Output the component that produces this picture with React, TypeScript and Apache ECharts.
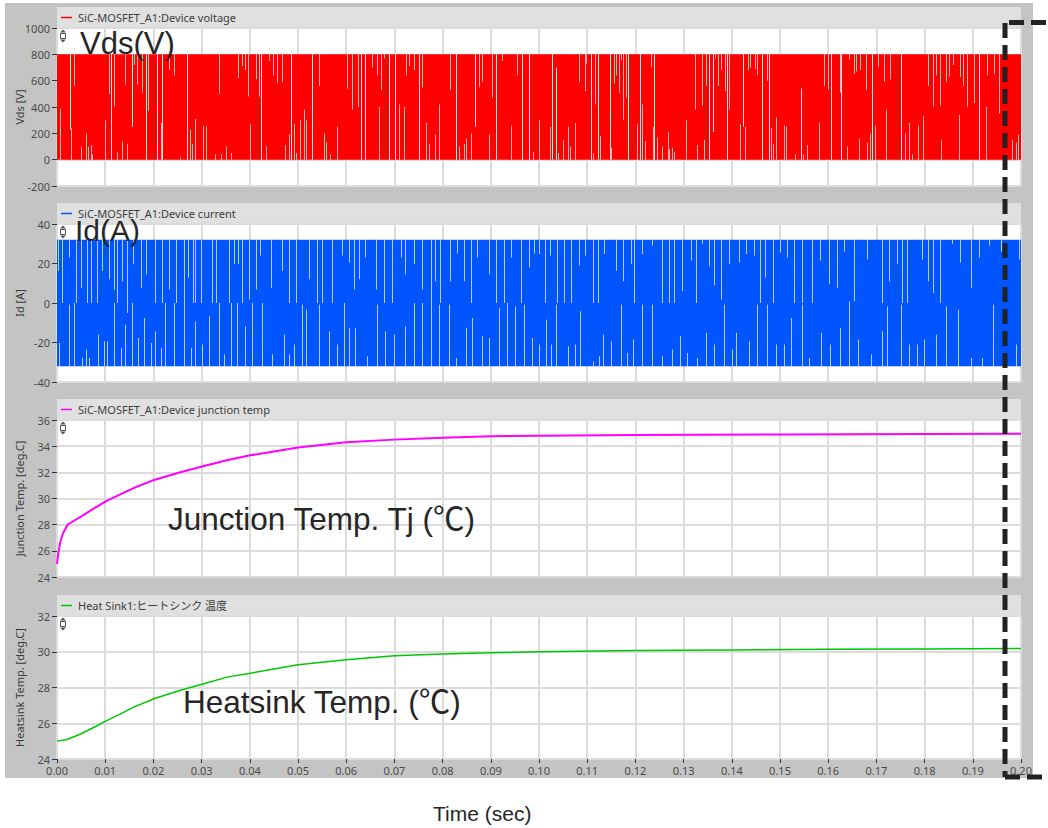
import React, { useEffect, useRef } from "react";
import * as echarts from "echarts";

// ---------- data ----------
const X_MIN = 0;
const X_MAX = 0.2;
const X_STEP = 0.01;

const panelNames = ["Vds [V]", "Id [A]", "Junction Temp. [deg.C]", "Heatsink Temp. [deg.C]"];
const legendNames = [
  "SiC-MOSFET_A1:Device voltage",
  "SiC-MOSFET_A1:Device current",
  "SiC-MOSFET_A1:Device junction temp",
  "Heat Sink1:ヒートシンク 温度",
];
const yMins = [-200, -40, 24, 24];
const yMaxs = [1000, 40, 36, 32];
const yIntervals = [200, 20, 2, 2];

// switching envelope [tStart, tEnd, low, high]
const vdsBand = [[0, 0.2, 0, 800]];
const idBand = [[0, 0.2, -32, 32]];

// visible gaps in the dense switching waveform [t, from, to]
const vdsGaps = [
  [0.0007,0,390],[0.0026,800,230],[0.0030,0,240],[0.0036,800,560],[0.0050,0,100],[0.0061,0,200],[0.0064,0,100],[0.0070,0,110],[0.0073,0,40],[0.0099,0,300],[0.0108,800,500],[0.0113,800,0],[0.0118,800,400],[0.0125,0,60],[0.0135,0,140],[0.0142,800,570],[0.0146,0,120],[0.0156,800,250],[0.0159,800,720],[0.0166,800,570],[0.0177,800,510],[0.0184,800,0],[0.0189,800,370],[0.0208,800,0],[0.0215,0,280],[0.0218,800,0],[0.0232,800,680],[0.0242,800,640],[0.0255,0,20],[0.0270,800,0],[0.0275,0,230],[0.0280,0,120],[0.0286,0,310],[0.0303,0,260],[0.0309,0,255],[0.0327,0,40],[0.0337,800,500],[0.0341,0,40],[0.0351,0,100],[0.0362,0,50],[0.0376,800,620],[0.0384,800,710],[0.0391,800,680],[0.0397,800,480],[0.0401,0,270],[0.0412,800,610],[0.0419,800,480],[0.0424,0,800],[0.0434,0,100],[0.0440,800,750],[0.0448,800,640],[0.0457,800,580],[0.0467,800,590],[0.0474,0,110],[0.0481,0,190],[0.0486,800,0],[0.0491,0,270],[0.0496,0,50],[0.0505,0,300],[0.0512,0,380],[0.0517,0,300],[0.0529,800,0],[0.0543,800,560],[0.0554,0,200],[0.0558,0,130],[0.0567,0,40],[0.0581,0,250],[0.0602,800,540],[0.0611,800,380],[0.0625,800,400],[0.0630,800,0],[0.0640,800,0],[0.0653,800,700],[0.0664,800,640],[0.0668,0,400],[0.0673,800,530],[0.0678,800,770],[0.0688,800,0],[0.0702,800,0],[0.0709,0,420],[0.0720,0,400],[0.0724,800,640],[0.0730,800,710],[0.0740,800,680],[0.0751,800,0],[0.0758,800,550],[0.0765,0,280],[0.0771,0,120],[0.0784,0,190],[0.0792,0,420],[0.0816,800,530],[0.0827,800,0],[0.0834,0,100],[0.0844,0,120],[0.0848,0,160],[0.0858,0,200],[0.0868,800,250],[0.0875,800,550],[0.0882,800,590],[0.0896,0,190],[0.0903,800,470],[0.0910,800,0],[0.0924,800,750],[0.0941,0,260],[0.0955,800,640],[0.0965,800,0],[0.0979,800,0],[0.0987,0,60],
  [0.0999,0,300],[0.1022,0,250],[0.1026,800,0],[0.1036,0,700],[0.1040,0,50],[0.1050,0,150],[0.1060,0,250],[0.1064,0,100],[0.1075,0,280],[0.1084,800,590],[0.1095,800,520],[0.1098,800,730],[0.1107,800,0],[0.1112,0,50],[0.1117,800,420],[0.1122,800,0],[0.1126,0,180],[0.1147,800,0],[0.1150,0,90],[0.1156,800,580],[0.1160,800,640],[0.1166,800,510],[0.1170,800,760],[0.1174,800,300],[0.1180,800,470],[0.1184,800,0],[0.1204,0,270],[0.1209,800,0],[0.1214,0,420],[0.1220,0,140],[0.1232,800,700],[0.1236,0,250],[0.1239,800,0],[0.1245,0,170],[0.1256,0,100],[0.1267,0,210],[0.1270,0,80],[0.1275,0,90],[0.1280,0,60],[0.1304,0,300],[0.1324,800,380],[0.1328,0,110],[0.1339,800,410],[0.1342,0,150],[0.1347,800,560],[0.1353,0,800],[0.1362,800,210],[0.1366,800,770],[0.1372,800,560],[0.1377,800,680],[0.1386,800,520],[0.1391,0,800],[0.1395,800,380],[0.1418,0,270],[0.1423,800,250],[0.1427,0,250],[0.1434,800,680],[0.1437,800,700],[0.1448,800,690],[0.1452,800,640],[0.1462,0,800],[0.1472,800,600],[0.1477,0,800],[0.1481,0,240],[0.1485,0,120],[0.1491,0,320],[0.1508,0,260],[0.1513,0,250],[0.1532,0,40],[0.1543,0,540],[0.1548,0,40],[0.1557,0,110],[0.1581,0,280],[0.1592,800,560],[0.1600,800,530],[0.1605,800,0],[0.1624,800,510],[0.1626,0,800],[0.1640,0,100],[0.1644,800,760],[0.1653,800,650],[0.1658,800,670],[0.1664,0,160],[0.1667,800,680],[0.1678,800,530],[0.1681,0,130],[0.1686,0,200],[0.1691,800,0],[0.1697,0,260],[0.1704,800,700],[0.1716,800,590],[0.1720,0,380],[0.1729,800,610],[0.1750,800,0],[0.1759,0,200],[0.1768,0,280],[0.1773,0,40],[0.1787,0,260],[0.1797,0,330],[0.1808,800,560],[0.1817,800,400],[0.1823,800,640],[0.1831,800,410],[0.1835,0,150],[0.1845,800,590],[0.1851,800,630],[0.1859,800,720],[0.1871,0,340],[0.1873,800,630],[0.1880,800,560],[0.1889,800,400],[0.1902,800,430],[0.1913,800,0],[0.1927,0,400],[0.1930,800,640],[0.1944,800,650],[0.1954,800,350],[0.1981,0,150],[0.1989,0,130],[0.1993,0,190],
];

const idGaps = [
  [0.0002,32,16.3],[0.0011,32,0],[0.0025,32,23],[0.0040,32,0],[0.0049,32,7.7],[0.0063,32,0],[0.0070,32,0],[0.0083,32,0],[0.0094,32,16.3],[0.0108,32,12],[0.0118,32,6.8],[0.0125,32,0],[0.0135,32,11],[0.0146,32,-5],[0.0157,32,19.7],[0.0175,32,7.7],[0.0184,32,14.5],[0.0204,32,0],[0.0217,32,0],[0.0232,32,6.8],[0.0247,32,0],[0.0263,32,0],[0.0272,32,12.8],[0.0282,32,0],[0.0287,32,0],[0.0299,32,0],[0.0322,32,0],[0.0329,32,0],[0.0357,32,0],[0.0367,32,19.7],[0.0376,32,19.7],[0.0384,32,0],[0.0398,32,1.7],[0.0412,32,6.8],[0.0422,32,24],[0.0443,32,7.7],[0.0467,32,16.3],[0.0481,32,0],[0.0495,32,0],[0.0523,32,12],[0.0540,32,0],[0.0550,32,0],[0.0571,32,0],[0.0592,32,24],[0.0605,32,20.5],[0.0616,32,6.8],[0.0626,32,12],[0.0640,32,23],[0.0661,32,6.8],[0.0678,32,0],[0.0695,32,0],[0.0713,32,23],[0.0723,32,14.5],[0.0740,32,19.7],[0.0758,32,6.8],[0.0775,32,0],[0.0785,32,11],[0.0795,32,0],[0.0816,32,11],[0.0830,32,25],[0.0844,32,11],[0.0858,32,0],[0.0872,32,23],[0.0896,32,14.5],[0.0910,32,0],[0.0927,32,0],[0.0941,32,23],[0.0962,32,0],[0.0979,32,18],[0.0989,32,25],
  [0.0004,-32,-20.2],[0.0025,-32,-0.8],[0.0035,-32,0],[0.0051,-32,-27.8],[0.0061,-32,-23.6],[0.0066,-32,-27.8],[0.0085,-32,-16],[0.0097,-32,-19.4],[0.0104,-32,-19.4],[0.0118,-32,0],[0.0132,-32,-22.7],[0.0142,-32,-11],[0.0156,-32,0],[0.0168,-32,-17.7],[0.0180,-32,-7.6],[0.0194,-32,-20.2],[0.0204,-32,-14.3],[0.0215,-32,-22.7],[0.0225,-32,0],[0.0242,-32,0],[0.0263,-32,0],[0.0277,-32,-22.7],[0.0287,-32,-9.3],[0.0301,-32,-21],[0.0315,-32,-6.7],[0.0336,-32,0],[0.0346,-32,-26],[0.0360,-32,0],[0.0374,-32,0],[0.0391,-32,-11.8],[0.0405,-32,0],[0.0426,-32,0],[0.0446,-32,-26],[0.0471,-32,-16],[0.0481,-32,-26],[0.0491,-32,-21],[0.0509,-32,-0.8],[0.0517,-32,-3.4],[0.0543,-32,-0.8],[0.0564,-32,-14.3],[0.0581,-32,-21],[0.0595,-32,0],[0.0605,-32,-12.6],[0.0619,-32,-12.6],[0.0644,-32,-27],[0.0664,-32,-0.8],[0.0681,-32,-14.3],[0.0699,-32,-16],[0.0723,-32,-11.8],[0.0740,-32,0],[0.0758,-32,0],[0.0775,-32,0],[0.0792,-32,-0.8],[0.0813,-32,-0.8],[0.0827,-32,-27.8],[0.0848,-32,-12.6],[0.0861,-32,-7.6],[0.0881,-32,-16.8],[0.0896,-32,-17.7],[0.0917,-32,-2.5],[0.0934,-32,0],[0.0950,-32,-1.7],[0.0969,-32,-0.8],[0.0986,-32,-17.7],
  [0.1000,32,24.8],[0.1012,32,0],[0.1022,32,24],[0.1038,32,0],[0.1052,32,0],[0.1066,32,0],[0.1083,32,19],[0.1095,32,24],[0.1112,32,0],[0.1122,32,0],[0.1135,32,24.8],[0.1160,32,16.3],[0.1174,32,11],[0.1190,32,19.7],[0.1197,32,0],[0.1214,32,24.8],[0.1235,32,29],[0.1256,32,0],[0.1270,32,0],[0.1280,32,0],[0.1297,32,6],[0.1315,32,21.5],[0.1326,32,0],[0.1339,32,30],[0.1353,32,18.5],[0.1363,32,9],[0.1377,32,1.7],[0.1394,32,19.7],[0.1415,32,20.5],[0.1429,32,24.8],[0.1446,32,24],[0.1458,32,0],[0.1469,32,12.8],[0.1485,32,0],[0.1501,32,25.5],[0.1515,32,23],[0.1529,32,0],[0.1546,32,0],[0.1567,32,0],[0.1584,32,21.5],[0.1602,32,9.5],[0.1619,32,7.7],[0.1633,32,26],[0.1653,32,0.9],[0.1681,32,22],[0.1712,32,0],[0.1726,32,11],[0.1743,32,19.7],[0.1754,32,0],[0.1764,32,0],[0.1795,32,22],[0.1808,32,11],[0.1817,32,5.1],[0.1831,32,0],[0.1856,32,30],[0.1873,32,20.5],[0.1896,32,7.7],[0.1913,32,23],[0.1934,32,29],[0.1958,32,26],[0.1996,32,22],
  [0.0999,-32,-21],[0.1015,-32,-8.4],[0.1024,-32,-21],[0.1036,-32,-0.8],[0.1060,-32,-21.9],[0.1075,-32,-21],[0.1086,-32,-4.2],[0.1112,-32,-29.5],[0.1124,-32,-27],[0.1133,-32,-16],[0.1149,-32,-19.4],[0.1171,-32,-0.8],[0.1183,-32,-25.3],[0.1195,-32,-18.5],[0.1214,-32,-0.8],[0.1235,-32,-0.8],[0.1256,-32,-27],[0.1275,-32,-23.6],[0.1292,-32,-16.8],[0.1308,-32,-25.3],[0.1328,-32,-27.8],[0.1347,-32,-15.1],[0.1363,-32,-21],[0.1384,-32,-0.8],[0.1401,-32,-23.6],[0.1409,-32,-15.1],[0.1436,-32,-19.4],[0.1453,-32,-0.8],[0.1472,-32,-0.8],[0.1491,-32,-21],[0.1508,-32,-21],[0.1522,-32,-7.6],[0.1545,-32,-0.8],[0.1560,-32,-27.8],[0.1586,-32,-15.1],[0.1603,-32,-21],[0.1624,-32,-12.6],[0.1643,-32,0.8],[0.1662,-32,-18.5],[0.1688,-32,-26],[0.1712,-32,-14.3],[0.1723,-32,-1.7],[0.1750,-32,-0.8],[0.1768,-32,-21],[0.1785,-32,-21],[0.1799,-32,-18.5],[0.1823,-32,-16],[0.1844,-32,-1.7],[0.1870,-32,-3.4],[0.1896,-32,-27.8],[0.1920,-32,-27.8],[0.1942,-32,-0.8],[0.1989,-32,-21],
];

const tjTime = [0, 0.0003, 0.0007, 0.0012, 0.0022, 0.0035, 0.0049, 0.0075, 0.0102, 0.013, 0.0159, 0.02, 0.025, 0.0301, 0.035, 0.0401, 0.045, 0.05, 0.06, 0.07, 0.08, 0.09, 0.1, 0.12, 0.15, 0.18, 0.2];
const tjValues = [25.0, 25.9, 26.7, 27.3, 28.0, 28.3, 28.6, 29.2, 29.8, 30.3, 30.8, 31.4, 31.95, 32.45, 32.9, 33.3, 33.6, 33.9, 34.3, 34.5, 34.65, 34.75, 34.8, 34.85, 34.9, 34.93, 34.95];

const hsTime = [0, 0.0021, 0.0049, 0.0075, 0.0102, 0.013, 0.0159, 0.0204, 0.0256, 0.0301, 0.0353, 0.0401, 0.05, 0.06, 0.07, 0.08, 0.09, 0.1, 0.12, 0.14, 0.16, 0.18, 0.2];
const hsValues = [25.0, 25.09, 25.4, 25.75, 26.13, 26.5, 26.9, 27.4, 27.85, 28.18, 28.58, 28.8, 29.27, 29.55, 29.77, 29.88, 29.94, 30.0, 30.07, 30.1, 30.14, 30.16, 30.18];

// ---------- style ----------
const COLORS = ["#ff0000", "#0055ff", "#ff00ff", "#00c800"];
const UI_FONT = '"Noto Sans", "Noto Sans CJK JP", sans-serif';
const BIG_FONT = '"Liberation Sans", Arial, "Noto Sans CJK JP", sans-serif';
const GRID_LEFT = 57;
const GRID_WIDTH = 964;
const GRID_TOPS = [28, 224, 420, 616];
const GRID_HEIGHTS = [158, 158, 157, 143];

function bandRender(color: string) {
  return (params: any, api: any) => {
    const a = api.coord([api.value(0), api.value(3)]);
    const b = api.coord([api.value(1), api.value(2)]);
    return {
      type: "rect",
      shape: { x: a[0], y: a[1], width: b[0] - a[0], height: b[1] - a[1] },
      style: { fill: color },
    };
  };
}

function gapRender(params: any, api: any) {
  const p1 = api.coord([api.value(0), api.value(1)]);
  const p2 = api.coord([api.value(0), api.value(2)]);
  const x = Math.round(p1[0]) + 0.5;
  const full = Math.abs(api.value(2) - api.value(1));
  return {
    type: "line",
    shape: { x1: x, y1: p1[1], x2: x, y2: p2[1] },
    style: { stroke: "#ffffff", lineWidth: 1, opacity: full > 500 ? 0.9 : 0.7 },
  };
}

function buildOption() {
  const grids = GRID_TOPS.map((top, i) => ({
    left: GRID_LEFT,
    width: GRID_WIDTH,
    top,
    height: GRID_HEIGHTS[i],
    show: true,
    backgroundColor: "#ffffff",
    borderWidth: 0,
  }));
  const xAxes = GRID_TOPS.map((_, i) => ({
    type: "value",
    gridIndex: i,
    min: X_MIN,
    max: X_MAX,
    interval: X_STEP,
    axisLine: { show: false },
    axisTick: { show: i === 3, length: 4, lineStyle: { color: "#333" } },
    axisLabel: {
      show: i === 3,
      formatter: (v: number) => v.toFixed(2),
      fontSize: 11,
      color: "#4a4a4a",
      fontFamily: UI_FONT,
      margin: 6,
      showMinLabel: true,
      showMaxLabel: true,
    },
    splitLine: { show: true, lineStyle: { color: "#dcdcdc", width: 2 } },
  }));
  const yAxes = GRID_TOPS.map((_, i) => ({
    type: "value",
    gridIndex: i,
    min: yMins[i],
    max: yMaxs[i],
    interval: yIntervals[i],
    name: panelNames[i],
    nameLocation: "middle",
    nameGap: 32,
    nameMoveOverlap: false,
    nameTextStyle: { fontSize: 11, color: "#3a3a3a", fontFamily: UI_FONT },
    axisLine: { show: false },
    axisTick: { show: true, length: 5, lineStyle: { color: "#333" } },
    axisLabel: {
      fontSize: 11,
      color: "#4a4a4a",
      fontFamily: UI_FONT,
      margin: 7,
      formatter: (v: number) => String(v),
    },
    splitLine: { show: true, lineStyle: { color: "#dcdcdc", width: 2 } },
  }));

  const series: any[] = [
    {
      type: "custom",
      xAxisIndex: 0,
      yAxisIndex: 0,
      renderItem: bandRender(COLORS[0]),
      encode: { x: [0, 1], y: [2, 3] },
      data: vdsBand,
      clip: true,
      z: 2,
    },
    {
      type: "custom",
      xAxisIndex: 0,
      yAxisIndex: 0,
      renderItem: gapRender,
      encode: { x: 0, y: [1, 2] },
      data: vdsGaps,
      clip: true,
      z: 3,
    },
    {
      type: "custom",
      xAxisIndex: 1,
      yAxisIndex: 1,
      renderItem: bandRender(COLORS[1]),
      encode: { x: [0, 1], y: [2, 3] },
      data: idBand,
      clip: true,
      z: 2,
    },
    {
      type: "custom",
      xAxisIndex: 1,
      yAxisIndex: 1,
      renderItem: gapRender,
      encode: { x: 0, y: [1, 2] },
      data: idGaps,
      clip: true,
      z: 3,
    },
    {
      type: "line",
      xAxisIndex: 2,
      yAxisIndex: 2,
      data: tjTime.map((t, i) => [t, tjValues[i]]),
      showSymbol: false,
      smooth: false,
      lineStyle: { color: COLORS[2], width: 2 },
      z: 3,
    },
    {
      type: "line",
      xAxisIndex: 3,
      yAxisIndex: 3,
      data: hsTime.map((t, i) => [t, hsValues[i]]),
      showSymbol: false,
      smooth: false,
      lineStyle: { color: COLORS[3], width: 1.5 },
      z: 3,
    },
  ];

  const graphics: any[] = [
    { type: "rect", z: -100, shape: { x: 5, y: 3, width: 1028, height: 775 }, style: { fill: "#c4c4c4" }, silent: true },
  ];
  GRID_TOPS.forEach((top, i) => {
    const hy = top - 10.5;
    graphics.push({ type: "rect", z: -50, shape: { x: GRID_LEFT, y: top - 21, width: GRID_WIDTH, height: 21 }, style: { fill: "#e0e0e0" } });
    graphics.push({ type: "line", z: 10, shape: { x1: 61, y1: hy, x2: 72, y2: hy }, style: { stroke: COLORS[i], lineWidth: 1.5 } });
    graphics.push({
      type: "text",
      z: 10,
      x: 78,
      y: hy,
      style: { text: legendNames[i], fill: "#3c3c3c", fontSize: 11, fontFamily: UI_FONT, verticalAlign: "middle" },
    });
    // small zoom handle icon
    const iy = top + 8;
    graphics.push({ type: "rect", z: 10, shape: { x: 60.5, y: iy - 2.5, width: 5, height: 5 }, style: { fill: "#ffffff", stroke: "#555", lineWidth: 1 } });
    graphics.push({ type: "polygon", z: 10, shape: { points: [[60, iy - 3.5], [66, iy - 3.5], [63, iy - 6.5]] }, style: { fill: "#555" } });
    graphics.push({ type: "polygon", z: 10, shape: { points: [[60, iy + 3.5], [66, iy + 3.5], [63, iy + 6.5]] }, style: { fill: "#555" } });
  });

  const bigText = (text: string, x: number, y: number, size: number) => ({
    type: "text",
    z: 20,
    x,
    y,
    style: { text, fill: "#262626", fontSize: size, fontFamily: BIG_FONT, verticalAlign: "middle" },
  });
  graphics.push(bigText("Vds(V)", 80, 43, 31));
  graphics.push(bigText("Id(A)", 75, 230, 30));
  graphics.push(bigText("Junction Temp. Tj (℃)", 168, 519, 31.5));
  graphics.push(bigText("Heatsink Temp. (℃)", 183, 702, 31.5));
  graphics.push(bigText("Time (sec)", 433, 813, 21));

  const dash = { stroke: "#222222", lineWidth: 5, lineDash: [15, 7] };
  graphics.push({ type: "line", z: 30, shape: { x1: 1005, y1: 23, x2: 1005, y2: 777 }, style: dash });
  graphics.push({ type: "line", z: 30, shape: { x1: 1009, y1: 22.5, x2: 1048, y2: 22.5 }, style: dash });
  graphics.push({ type: "line", z: 30, shape: { x1: 1005, y1: 777, x2: 1048, y2: 777 }, style: dash });

  return {
    animation: false,
    backgroundColor: "#ffffff",
    grid: grids,
    xAxis: xAxes,
    yAxis: yAxes,
    series,
    graphic: { elements: graphics },
  };
}

export default function App() {
  const ref = useRef<HTMLDivElement>(null);
  useEffect(() => {
    if (!ref.current) return;
    const chart = echarts.init(ref.current, null, { renderer: "svg" });
    chart.setOption(buildOption() as any);
    return () => chart.dispose();
  }, []);
  return (
    <div
      ref={ref}
      style={{ position: "absolute", left: 0, top: 0, width: 1048, height: 828 }}
    />
  );
}
